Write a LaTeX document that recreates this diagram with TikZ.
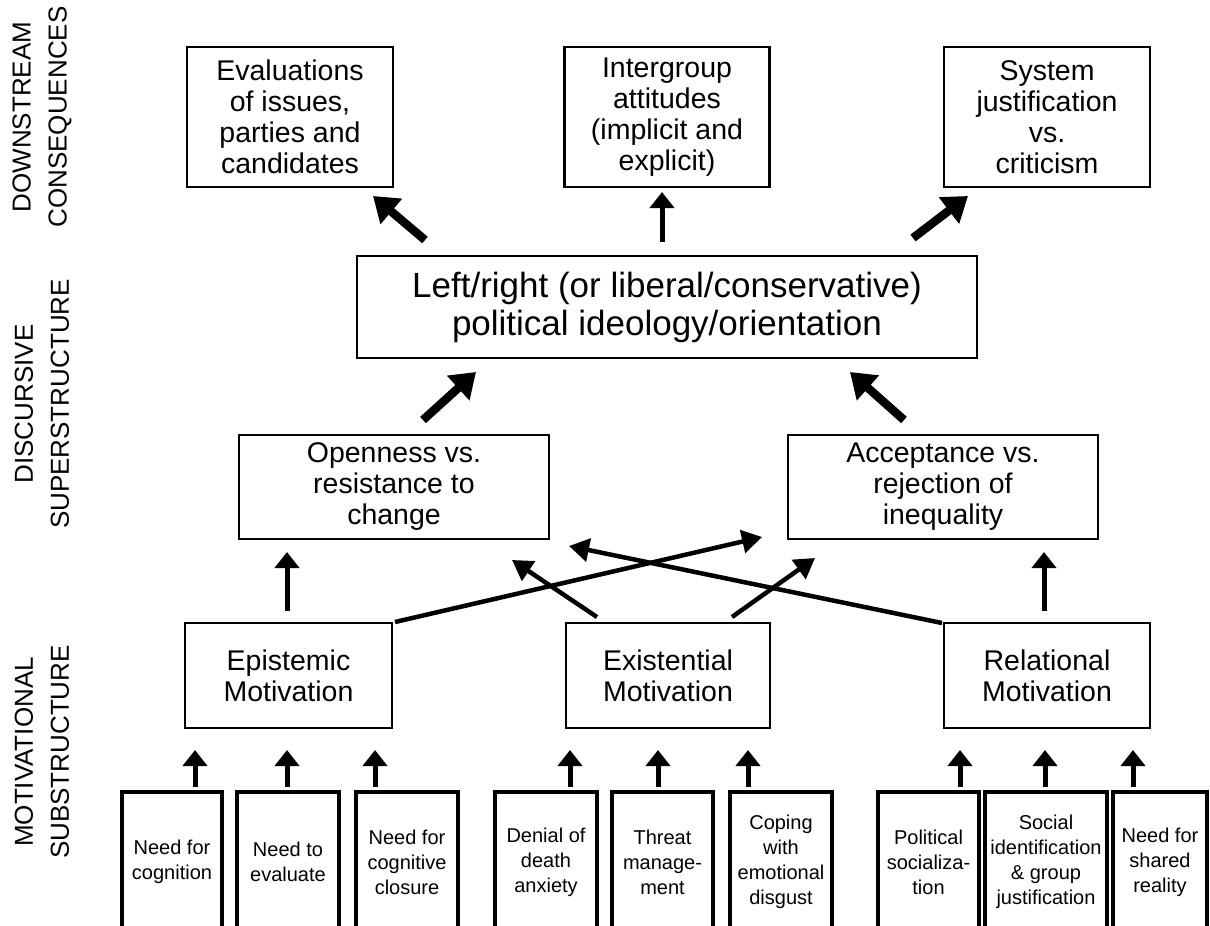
\documentclass[tikz,border=0pt]{standalone}
\usepackage{fontspec}
\setmainfont{Liberation Sans}
\usetikzlibrary{arrows.meta}
\begin{document}
\begin{tikzpicture}[x=1pt,y=-1pt,
  box/.style={draw=black, line width=2.8pt, align=center, inner sep=0pt, font=\fontsize{28.5}{31}\selectfont},
  bigbox/.style={box, font=\fontsize{35}{38}\selectfont},
  sbox/.style={box, line width=3.4pt, font=\fontsize{20}{25}\selectfont},
  bigarrow/.style={-{Triangle[length=24pt,width=32pt]}, line width=8.5pt},
  thinarrow/.style={-{Triangle[length=20pt,width=23pt]}, line width=4.5pt},
  uparrow/.style={-{Triangle[length=16pt,width=24pt]}, line width=5pt},
  lab/.style={rotate=90, align=center, font=\fontsize{26}{36}\selectfont}
]
\useasboundingbox (0,0) rectangle (1210,926);
\clip (0,0) rectangle (1210,926);

% side labels
\node[lab] (l1) at (42,117) {DOWNSTREAM\\CONSEQUENCES};
\node[lab] (l2) at (42,404) {DISCURSIVE\\SUPERSTRUCTURE};
\node[lab] (l3) at (42,752) {MOTIVATIONAL\\SUBSTRUCTURE};

% top row
\node[box, minimum width=206pt, minimum height=140pt] (eval) at (290,117) {Evaluations\\of issues,\\parties and\\candidates};
\node[box, minimum width=205pt, minimum height=140pt] (inter) at (667,117) {Intergroup\\attitudes\\(implicit and\\explicit)};
\node[box, minimum width=206pt, minimum height=140pt] (sys) at (1047,117) {System\\justification\\vs.\\criticism};

% ideology
\node[bigbox, minimum width=620pt, minimum height=102pt] (ideo) at (667,307) {Left/right (or liberal/conservative)\\political ideology/orientation};

% discursive
\node[box, minimum width=310pt, minimum height=104pt] (open) at (394,487) {Openness vs.\\resistance to\\change};
\node[box, minimum width=310pt, minimum height=104pt] (acc) at (943,487) {Acceptance vs.\\rejection of\\inequality};

% motivations
\node[box, minimum width=207pt, minimum height=105pt] (epi) at (288.5,675.5) {Epistemic\\Motivation};
\node[box, minimum width=204pt, minimum height=105pt] (exi) at (668,675.5) {Existential\\Motivation};
\node[box, minimum width=206pt, minimum height=105pt] (rel) at (1047,675.5) {Relational\\Motivation};

% bottom boxes (open at the bottom, cut by the frame)
\node[sbox, minimum width=100pt, minimum height=140pt] (b1) at (172,862) {Need for\\cognition};
\node[sbox, minimum width=102pt, minimum height=140pt] (b2) at (288,862) {Need to\\evaluate};
\node[sbox, minimum width=102pt, minimum height=140pt] (b3) at (407,862) {Need for\\cognitive\\closure};
\node[sbox, minimum width=102pt, minimum height=140pt] (b4) at (546,862) {Denial of\\death\\anxiety};
\node[sbox, minimum width=101pt, minimum height=140pt] (b5) at (662.5,862) {Threat\\manage-\\ment};
\node[sbox, minimum width=102pt, minimum height=140pt] (b6) at (781,862) {Coping\\with\\emotional\\disgust};
\node[sbox, minimum width=101pt, minimum height=140pt] (b7) at (928.5,862) {Political\\socializa-\\tion};
\node[sbox, minimum width=122pt, minimum height=140pt] (b8) at (1046,862) {Social\\identification\\\& group\\justification};
\node[sbox, minimum width=94pt, minimum height=140pt] (b9) at (1160,862) {Need for\\shared\\reality};

% arrow end points
\coordinate (t1s) at (425,240); \coordinate (t1e) at (373,196);
\coordinate (t2s) at (662,242); \coordinate (t2e) at (662,192);
\coordinate (t3s) at (913,238); \coordinate (t3e) at (968,196);
\coordinate (d1s) at (423,420); \coordinate (d1e) at (476,372);
\coordinate (d2s) at (904,420); \coordinate (d2e) at (850,372);
\coordinate (u1s) at (287,611); \coordinate (u1e) at (287,552);
\coordinate (u2s) at (1044,611); \coordinate (u2e) at (1044,552);
\coordinate (c1s) at (395,622); \coordinate (c1e) at (762,537);
\coordinate (c2s) at (942,623); \coordinate (c2e) at (569,546);
\coordinate (c3s) at (597,617); \coordinate (c3e) at (512,560);
\coordinate (c4s) at (732,617); \coordinate (c4e) at (815,558);

\draw[bigarrow] (t1s) -- (t1e);
\draw[uparrow] (t2s) -- (t2e);
\draw[bigarrow] (t3s) -- (t3e);
\draw[bigarrow] (d1s) -- (d1e);
\draw[bigarrow] (d2s) -- (d2e);
\draw[uparrow] (u1s) -- (u1e);
\draw[uparrow] (u2s) -- (u2e);
\draw[thinarrow] (c1s) -- (c1e);
\draw[thinarrow] (c2s) -- (c2e);
\draw[thinarrow] (c3s) -- (c3e);
\draw[thinarrow] (c4s) -- (c4e);

% bottom row arrows
\foreach \x/\n in {195/p1,287/p2,375/p3,570/p4,658/p5,748/p6,960/p7,1045/p8,1133/p9}{
  \coordinate (\n s) at (\x,787);
  \coordinate (\n e) at (\x,750);
  \draw[uparrow] (\n s) -- (\n e);
}
\end{tikzpicture}
\end{document}
